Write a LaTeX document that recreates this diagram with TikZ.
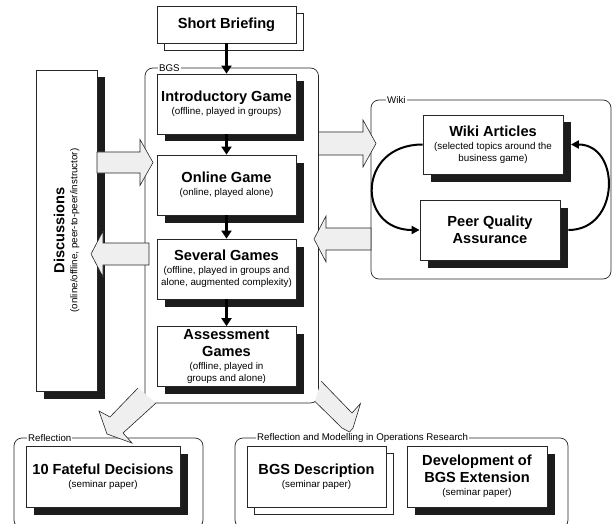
\documentclass[tikz,border=0pt]{standalone}
\usepackage{fontspec}
\setmainfont{Liberation Sans}
\usetikzlibrary{shadows,arrows.meta}

% type sizes
\newcommand\bxtitle{\fontsize{14.6pt}{17pt}\selectfont\bfseries}
\newcommand\bxnote{\fontsize{9.8pt}{17pt}\selectfont\mdseries}
\newcommand\grplabel{\fontsize{9.7pt}{11pt}\selectfont}

\definecolor{blockgray}{HTML}{EFEFEF}
\definecolor{shade}{HTML}{1C1C1C}

\tikzset{
  box/.style={draw=black!85, line width=0.8pt, fill=white, align=center,
    inner sep=1pt, font=\bxnote, minimum width=139pt, minimum height=60pt},
  shadowed/.style={drop shadow={shadow xshift=7.5pt, shadow yshift=-7.5pt,
    fill=shade, opacity=1}},
  stacked/.style={copy shadow={shadow xshift=7pt, shadow yshift=-7pt}},
  group/.style={draw=black!85, line width=0.7pt, rounded corners=8pt},
  grouplabel/.style={fill=white, inner xsep=1pt, inner ysep=0.5pt,
    font=\grplabel, anchor=west},
  flow/.style={draw=black, line width=2.6pt,
    -{Triangle[length=8pt,width=10pt]}},
  loopline/.style={draw=black, line width=2pt,
    -{Triangle[length=8pt,width=8pt]}},
  blockfill/.style={fill=blockgray},
  blockline/.style={draw=black!85, line width=0.6pt, line join=miter},
}

\begin{document}
\begin{tikzpicture}[x=1pt, y=-1pt]
\useasboundingbox (0,0) rectangle (613,524);
\clip (0,0) rectangle (613,524);

% ---- group frames -------------------------------------------------------
\draw[group] (145,68) rectangle (318.5,403);
\node[grouplabel] (lblbgs) at (158,68) {BGS};

\draw[group] (371,100) rectangle (611,279);
\node[grouplabel] (lblwiki) at (386,100) {Wiki};

\draw[group] (14,438) rectangle (203,528);
\node[grouplabel] (lblrefl) at (27,438) {Reflection};

\draw[group] (235,438) rectangle (568,528);
\node[grouplabel] (lblor) at (256,438) {Reflection and Modelling in Operations Research};

% ---- boxes --------------------------------------------------------------
\node[box, stacked, minimum height=37pt] (sb) at (226.5,24.5)
  {{\bxtitle Short Briefing}};

\node[box, shadowed] (intro) at (226.5,104)
  {{\bxtitle Introductory Game}\\[-4pt]{\bxnote (offline, played in groups)}};
\node[box, shadowed] (online) at (226.5,185)
  {{\bxtitle Online Game}\\[-4pt]{\bxnote (online, played alone)}};
\node[box, shadowed] (several) at (226.5,269)
  {{\bxtitle Several Games}\\[-4pt]{\bxnote (offline, played in groups and}\\[-5pt]{\bxnote alone, augmented complexity)}};
\node[box, shadowed] (assess) at (226.5,356.5)
  {{\bxtitle Assessment}\\{\bxtitle Games}\\[-4pt]{\bxnote (offline, played in}\\[-5pt]{\bxnote groups and alone)}};

\node[box, shadowed, minimum width=61pt, minimum height=321pt] (disc) at (66.5,230.5) {};
\node[rotate=90, align=center, font=\bxnote, inner sep=0pt] (disctext) at (disc.center)
  {{\bxtitle Discussions}\\[-4pt]{\bxnote (online/offline, peer-to-peer/instructor)}};

\node[box, shadowed, minimum width=140pt, minimum height=59pt] (wa) at (493,144.5)
  {{\bxtitle Wiki Articles}\\[-4pt]{\bxnote (selected topics around the}\\[-5pt]{\bxnote business game)}};
\node[box, shadowed, minimum width=140pt] (pqa) at (490,230)
  {{\bxtitle Peer Quality}\\{\bxtitle Assurance}};

\node[box, shadowed, minimum width=154pt, minimum height=61pt] (fd) at (103,476.5)
  {{\bxtitle 10 Fateful Decisions}\\[-4pt]{\bxnote (seminar paper)}};
\node[box, stacked, minimum height=61pt] (bd) at (316.5,476.5)
  {{\bxtitle BGS Description}\\[-4pt]{\bxnote (seminar paper)}};
\node[box, shadowed, minimum width=140pt, minimum height=61pt] (dev) at (477,476.5)
  {{\bxtitle Development of}\\{\bxtitle BGS Extension}\\[-4pt]{\bxnote (seminar paper)}};

% ---- sequence of the game phases -----------------------------------------
\draw[flow] (sb.south) -- (intro.north);
\draw[flow] (intro.south) -- (online.north);
\draw[flow] (online.south) -- (several.north);
\draw[flow] (several.south) -- (assess.north);

% ---- block arrows between the groups ---------------------------------------
% discussions -> online game
\filldraw[blockfill, blockline] (97,152) -- (140,152) -- (140,139.5) -- (153,162.5)
  -- (140,185.5) -- (140,173) -- (97,173) -- cycle;
% several games -> discussions
\filldraw[blockfill, blockline] (149,243) -- (103,243) -- (103,231) -- (91,254)
  -- (103,277) -- (103,265) -- (149,265) -- cycle;
% BGS -> wiki
\filldraw[blockfill, blockline] (318.5,132) -- (363,132) -- (363,120) -- (376,143.5)
  -- (363,167) -- (363,155) -- (318.5,155) -- cycle;
% wiki -> BGS
\filldraw[blockfill, blockline] (371,228) -- (326,228) -- (326,216) -- (314,239)
  -- (326,262) -- (326,250) -- (371,250) -- cycle;
% BGS -> reflection
\fill[blockfill] (138,388) -- (110,417) -- (99,411) -- (107,434) -- (132,443)
  -- (123,433) -- (156,403) -- cycle;
\draw[blockline] (138,388) -- (110,417) -- (99,411) -- (107,434) -- (132,443)
  -- (123,433) -- (156,403);
% BGS -> reflection and modelling
\fill[blockfill] (321,381) -- (352,413) -- (360.5,403.5) -- (353,428) -- (349.5,432)
  -- (342,428) -- (315,401.5) -- cycle;
\draw[blockline] (321,381) -- (352,413) -- (360.5,403.5) -- (353,428) -- (349.5,432)
  -- (342,428) -- (315,401.5);

% ---- wiki review cycle ----------------------------------------------------
\draw[loopline] (wa.west) .. controls +(-66,0) and +(-63,0) .. (pqa.west);
\draw[loopline] ([xshift=8pt]pqa.east) .. controls +(52,0) and +(50,0) .. ([xshift=7.5pt]wa.east);

\end{tikzpicture}
\end{document}
